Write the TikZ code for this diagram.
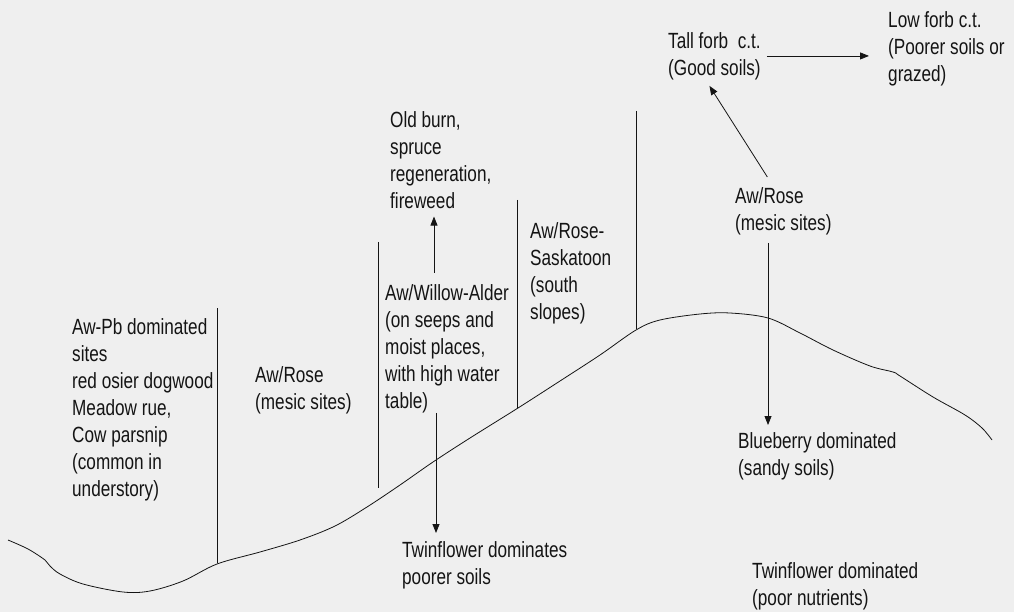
\documentclass[tikz,border=0pt]{standalone}
\usepackage{fontspec}
\newfontfamily\narrowfont[FakeStretch=0.78]{Liberation Sans}
\usetikzlibrary{arrows.meta,calc}
\definecolor{bgc}{RGB}{239,239,239}
\definecolor{ink}{RGB}{20,20,20}
\begin{document}
\begin{tikzpicture}[x=1pt,y=-1pt,
  lbl/.style={anchor=north west,inner sep=0pt,align=left,text=ink,
    font=\narrowfont\fontsize{22}{27}\selectfont},
  thin line/.style={draw=ink,line width=0.8pt},
  arr/.style={draw=ink,line width=0.8pt,-{Triangle[length=9pt,width=7pt]}}]
\fill[bgc] (0,0) rectangle (1014,612);
\useasboundingbox (0,0) rectangle (1014,612);

% labels (cap top = baseline - 16)
\node[lbl] (awpb) at (72,318) {Aw-Pb dominated\\sites\\red osier dogwood\\Meadow rue,\\Cow parsnip\\(common in\\understory)};
\node[lbl] (rose1) at (255,366) {Aw/Rose\\(mesic sites)};
\node[lbl] (willow) at (385,284) {Aw/Willow-Alder\\(on seeps and\\moist places,\\with high water\\table)};
\node[lbl] (oldburn) at (390,111) {Old burn,\\spruce\\regeneration,\\fireweed};
\node[lbl] (sask) at (530,222) {Aw/Rose-\\Saskatoon\\(south\\slopes)};
\node[lbl] (tall) at (668,32) {Tall forb\ \ c.t.\\(Good soils)};
\node[lbl] (low) at (888,11) {Low forb c.t.\\(Poorer soils or\\grazed)};
\node[lbl] (rose2) at (735,187) {Aw/Rose\\(mesic sites)};
\node[lbl] (blue) at (738,432) {Blueberry dominated\\(sandy soils)};
\node[lbl] (twin2) at (752,562) {Twinflower dominated\\(poor nutrients)};
\node[lbl] (twin1) at (402,541) {Twinflower dominates\\poorer soils};

% ground profile
\draw[thin line] plot[smooth,tension=0.55] coordinates {
 (8,540) (28,549) (45,560) (50,566) (60,574) (83,584) (123,592) (150,591)
 (183,581) (217,564) (260,552) (300,540) (335,526) (367,507) (400,485)
 (433,462) (470,438) (518,408) (560,381) (600,355) (636,330) (660,320)
 (700,314) (730,313) (768,318) (800,333) (833,350) (870,366) (893,372)
 (900,376) (933,397) (965,415) (982,428) (992,440)};

% dividers
\draw[thin line] (217,308) -- (217,563);
\draw[thin line] (378,242) -- (378,488);
\draw[thin line] (517,200) -- (517,408);
\draw[thin line] (636,111) -- (636,329);

% arrows
\coordinate (up1) at (434,0);
\coordinate (dn1) at (436,0);
\coordinate (dn2) at (768,0);
\draw[arr,shorten <=11pt,shorten >=8pt] (willow.north -| up1) -- (oldburn.south -| up1);
\draw[arr,shorten >=8pt] (willow.south -| dn1) -- (twin1.north -| dn1);
\draw[arr] ([shift={(-16,-10)}]rose2.north) -- ([shift={(-5,6)}]tall.south);
\draw[arr,shorten <=6pt,shorten >=19pt] (tall.east) -- (tall.east -| low.west);
\draw[arr,shorten <=8pt,shorten >=7pt] (rose2.south -| dn2) -- (blue.north -| dn2);
\end{tikzpicture}
\end{document}
